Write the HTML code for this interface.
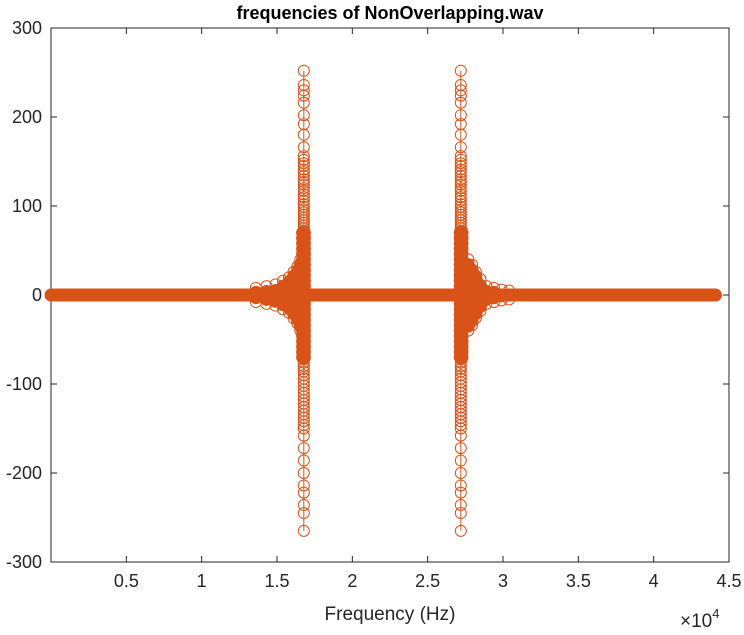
<!DOCTYPE html>
<html><head><meta charset="utf-8"><style>
body{margin:0;background:#fff;}
svg{font-family:"Liberation Sans",Arial,sans-serif;}
</style></head><body>
<svg id="chart" width="744" height="630" viewBox="0 0 744 630">
<text x="390" y="19" text-anchor="middle" font-size="18" font-weight="bold" fill="#000">frequencies of NonOverlapping.wav</text>
<g id="plot"></g>
<text x="390" y="620" text-anchor="middle" font-size="19" fill="#262626">Frequency (Hz)</text>
<text x="680" y="627" font-size="19" fill="#262626">×10<tspan dy="-9" font-size="13">4</tspan></text>
</svg>
<script>
const xTicks=[5000,10000,15000,20000,25000,30000,35000,40000,45000];
const xTickLabels=["0.5","1","1.5","2","2.5","3","3.5","4","4.5"];
const yTicks=[300,200,100,0,-100,-200,-300];
const yTickLabels=["300","200","100","0","-100","-200","-300"];
const baselineRange=[0,44100];
const spike1Freqs=[16780];
const spike2Freqs=[27200];
const spikeVals=[252,236,230,224,216,202,192,180,166,156,152,148,145,141,138,134,130,127,124,120,117,113,110,106,102,99,96,93,90,87,84,81,78,75,72,66,60,55,50,45,40,35,30,25,20,15,10,5,-5,-10,-15,-20,-25,-30,-35,-40,-45,-50,-55,-60,-66,-72,-76,-80,-83,-86,-90,-94,-98,-102,-106,-110,-114,-118,-122,-126,-130,-134,-138,-142,-146,-150,-158,-172,-186,-200,-214,-222,-236,-245,-265];
const core1Freqs=[16700,16760,16820];
const core2Freqs=[27160,27220,27280];
const coreVals=[70,64,58,52,46,40,34,28,22,16,10,4,-4,-10,-16,-22,-28,-34,-40,-46,-52,-58,-64,-70];
const fringeFreqs=[13600,14300,14900,15400,15800,16100,16350,16550,28900,28500,28200,27950,27700,29400,29900,30400];
const fringeVals=[8,10,12,16,20,26,32,40,10,18,26,34,40,8,6,5];
const X0=0,X1=45000,PX0=51,PX1=729,PY0=28,PY1=562;
const xs=v=>PX0+(v-X0)/(X1-X0)*(PX1-PX0);
const ys=v=>PY0+(300-v)/600*(PY1-PY0);
const NS="http://www.w3.org/2000/svg";
const plot=document.getElementById('plot');
function mk(t,a){const e=document.createElementNS(NS,t);for(const k in a)e.setAttribute(k,a[k]);plot.appendChild(e);return e;}
const box=mk('rect',{x:PX0,y:PY0,width:PX1-PX0,height:PY1-PY0,fill:'none',stroke:'#262626','stroke-width':1});


xTicks.forEach((t,i)=>{
 const x=xs(t);
 const l=mk('line',{x1:x,x2:x,y1:PY1,y2:PY1-6,stroke:'#262626'});
 
 
 const l2=mk('line',{x1:x,x2:x,y1:PY0,y2:PY0+6,stroke:'#262626'});
 
 
 const tx=mk('text',{x:x,y:PY1+25,'text-anchor':'middle','font-size':18,fill:'#262626'});
 tx.textContent=xTickLabels[i];
 
 
});
yTicks.forEach((t,i)=>{
 const y=ys(t);
 const l=mk('line',{x1:PX0,x2:PX0+6,y1:y,y2:y,stroke:'#262626'});
 
 
 const l2=mk('line',{x1:PX1,x2:PX1-6,y1:y,y2:y,stroke:'#262626'});
 
 
 const tx=mk('text',{x:PX0-9,y:y+6,'text-anchor':'end','font-size':18,fill:'#262626'});
 tx.textContent=yTickLabels[i];
 
 
});
const C='#D95319';
const base=mk('line',{x1:xs(baselineRange[0]),x2:xs(baselineRange[1]),y1:ys(0),y2:ys(0),stroke:C,'stroke-width':13,'stroke-linecap':'round'});


function circ(f,v){
 const c=mk('circle',{cx:xs(f),cy:ys(v),r:5.5,fill:'none',stroke:C,'stroke-width':1});
 
 
}
function dot(f,v){
 const c=mk('circle',{cx:xs(f),cy:ys(v),r:6,fill:C,stroke:C,'stroke-width':1});
 
 
}
fringeFreqs.forEach((f,i)=>{circ(f,fringeVals[i]);circ(f,-fringeVals[i]);for(let k=-fringeVals[i]+5;k<=fringeVals[i]-5;k+=3)dot(f,k);});
[core1Freqs,core2Freqs].forEach(fs=>fs.forEach(f=>coreVals.forEach(v=>dot(f,v))));
[spike1Freqs,spike2Freqs].forEach(fs=>fs.forEach(f=>{
 const ln=mk('line',{x1:xs(f),x2:xs(f),y1:ys(spikeVals[0]),y2:ys(spikeVals[spikeVals.length-1]),stroke:C,'stroke-width':1});
 
 
 spikeVals.forEach(v=>circ(f,v));
}));
</script>
</body></html>
